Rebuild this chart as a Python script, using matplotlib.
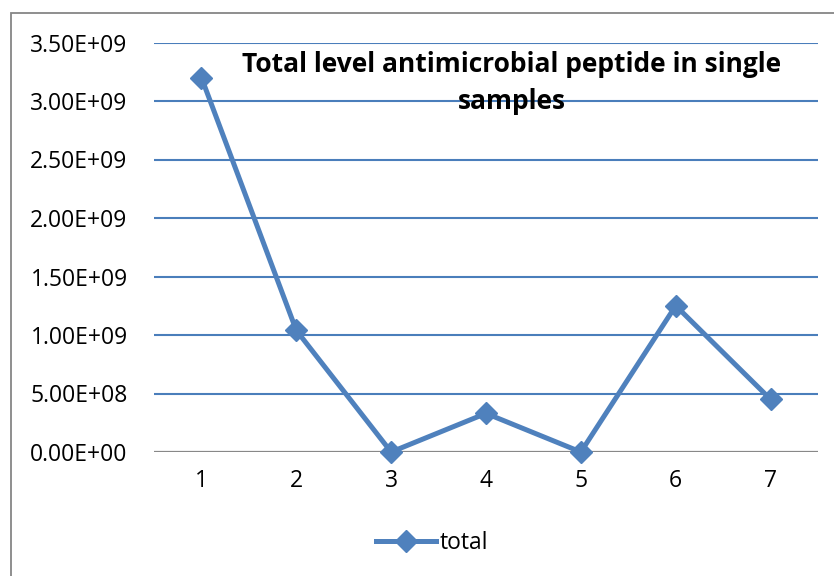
import matplotlib.pyplot as plt
import matplotlib.patches as mpatches
import numpy as np

samples = [1, 2, 3, 4, 5, 6, 7]
total = [3.20e9, 1.04e9, 0.0, 3.3e8, 0.0, 1.25e9, 4.5e8]
yticks = [0, 5e8, 1e9, 1.5e9, 2e9, 2.5e9, 3e9, 3.5e9]

plt.rcParams['font.family'] = ['Open Sans', 'DejaVu Sans']
blue = '#4F81BD'

fig = plt.figure(figsize=(8.34, 5.76), dpi=100)
W, H = 834, 576

# outer chart frame
frame = mpatches.Rectangle((11 / W, -0.1), 1.0, (576 - 13) / H + 0.1,
                           transform=fig.transFigure, fill=False,
                           edgecolor='#868686', linewidth=1.3)
fig.patches.append(frame)

ax = fig.add_axes([154 / W, 1 - 452 / H, (818 - 154) / W, (452 - 42.5) / H])
ax.set_xlim(0.5, 7.5)
ax.set_ylim(0, 3.5e9)
for s in ax.spines.values():
    s.set_visible(False)

for v in yticks[1:]:
    ax.axhline(v, color='#4A7EBB', linewidth=1.5, zorder=1)
ax.axhline(0, color='#888888', linewidth=1.6, zorder=1)

ax.plot(samples, total, color=blue, linewidth=3.6, marker='D', markersize=11.5,
        zorder=3, label='total', clip_on=False)

ax.set_yticks(yticks)
ax.set_yticklabels(['%.2E' % v for v in yticks])
ax.set_xticks(samples)
ax.tick_params(length=0, labelsize=16.5, pad=12)
ax.tick_params(axis='y', pad=19)

ax.text(0.539, 0.98, 'Total level antimicrobial peptide in single\nsamples',
        transform=ax.transAxes, ha='center', va='top', fontsize=19,
        fontweight='bold', linespacing=1.5)

fig.legend(loc='center', bbox_to_anchor=(432 / W, 1 - 543 / H), frameon=False,
           fontsize=16.5, handlelength=2.6, handletextpad=0.15)

fig.savefig('out.png', dpi=100)
